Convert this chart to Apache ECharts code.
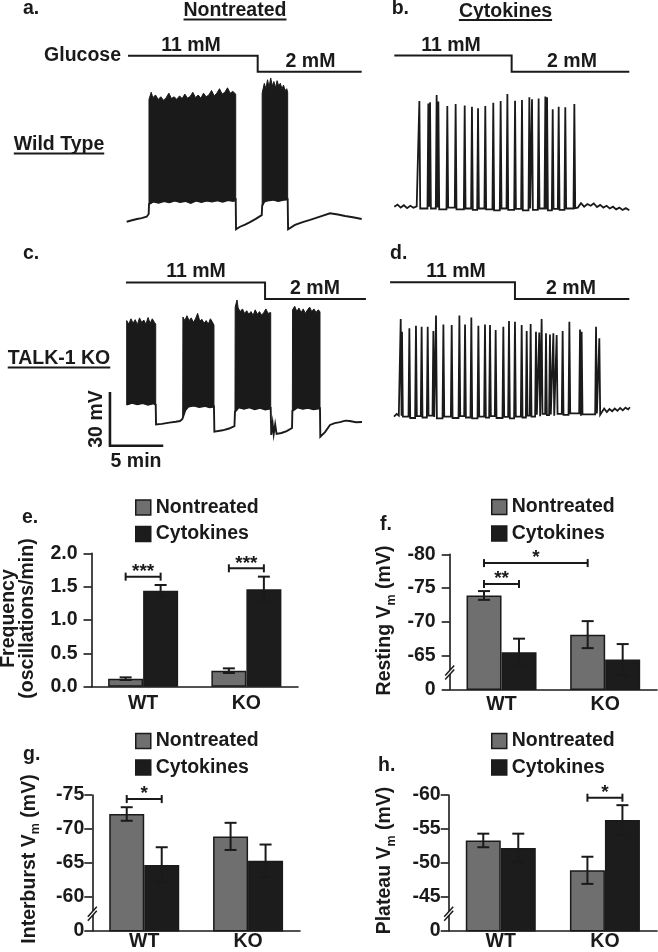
<!DOCTYPE html>
<html><head><meta charset="utf-8">
<script src="https://cdn.jsdelivr.net/npm/echarts@6/dist/echarts.min.js"></script>
<style>html,body{margin:0;padding:0;background:#fff;}#c{width:658px;height:952px;}</style>
</head><body><div id="c"></div>
<script>
// ================= DATA =================
const groups = ['WT', 'KO'];
const seriesNames = ['Nontreated', 'Cytokines'];

// e. Frequency (oscillations/min)
const freqNontreated = [0.12, 0.24];
const freqNontreatedErr = [0.02, 0.035];
const freqCytokines = [1.44, 1.46];
const freqCytokinesErr = [0.085, 0.19];
const freqTicks = ['0.0', '0.5', '1.0', '1.5', '2.0'];
const freqSig = [[0, 0, 0, 1, 1.65], [1, 0, 1, 1, 1.775]];
const freqSigLabels = ['***', '***'];

// f. Resting Vm (mV)
const restNontreated = [-73.9, -68.1];
const restNontreatedErr = [0.65, 2.0];
const restCytokines = [-65.5, -64.4];
const restCytokinesErr = [2.0, 2.3];
const restTicks = ['-80', '-75', '-70', '-65', '0'];
const restSig = [[0, 0, 1, 0, -78.7], [0, 0, 0, 1, -75.6]];
const restSigLabels = ['*', '**'];

// g. Interburst Vm (mV)
const interNontreated = [-72.2, -68.9];
const interNontreatedErr = [1.0, 2.0];
const interCytokines = [-64.7, -65.3];
const interCytokinesErr = [2.6, 2.4];
const interTicks = ['-75', '-70', '-65', '-60', '0'];
const interSig = [[0, 0, 0, 1, -74.4]];
const interSigLabels = ['*'];

// h. Plateau Vm (mV)
const platNontreated = [-53.3, -48.9];
const platNontreatedErr = [1.0, 2.0];
const platCytokines = [-52.2, -56.3];
const platCytokinesErr = [2.1, 2.2];
const platTicks = ['-60', '-55', '-50', '-45', '0'];
const platSig = [[1, 0, 1, 1, -59.6]];
const platSigLabels = ['*'];

// ---- traces: time (min), membrane potential (mV) ----
// a. Wild type, nontreated (bursting)
const aBaseline = [
  [[0, -72.8], [0.5, -72.0], [0.97, -71.3], [1.4, -70.8], [1.87, -70.0], [2.06, -68.5]],
  [[10.25, -77.0], [10.62, -75.6], [11.1, -74.4], [11.56, -73.0], [12.1, -71.2], [12.66, -69.1]],
  [[15.13, -77.0], [15.78, -74.6], [16.5, -73.0], [17.19, -71.8], [18.12, -70.0], [19.06, -68.1], [19.8, -68.8], [20.47, -69.6], [21.2, -70.3], [22.03, -71.3]]
];
const aBurstTop = [
  [[2.09, -4.5], [2.3, -0.5], [2.45, -3.5], [2.7, -2.0], [2.95, -4.5], [3.2, -3.0], [3.45, -5.0], [3.7, -3.5], [3.95, -1.0], [4.2, -4.0], [4.45, -3.0], [4.7, -4.5], [4.95, -2.5], [5.2, -4.0], [5.45, -1.5], [5.7, -3.8], [5.95, -2.8], [6.2, -0.5], [6.45, -3.5], [6.7, -2.0], [6.95, -3.8], [7.2, -1.0], [7.45, -3.0], [7.7, -2.0], [7.95, 0.5], [8.2, -2.5], [8.45, -1.0], [8.7, 1.5], [8.95, -1.5], [9.2, -0.5], [9.45, 2.0], [9.7, -1.0], [9.95, 0.0], [10.22, -1.5]],
  [[12.7, -1.0], [12.9, 4.5], [13.05, 1.5], [13.2, 6.5], [13.35, 2.5], [13.5, 7.5], [13.65, 3.0], [13.8, 5.5], [13.95, 2.0], [14.1, 6.0], [14.25, 3.0], [14.4, 4.5], [14.55, 1.5], [14.7, 3.5], [14.85, 0.5], [15.0, 1.5], [15.09, -0.5]]
];
const aBurstBottom = [
  [[2.09, -63.0], [2.5, -61.5], [3.0, -62.2], [3.5, -61.3], [4.0, -62.0], [4.5, -61.0], [5.0, -61.8], [5.5, -61.2], [6.0, -62.3], [6.5, -61.0], [7.0, -61.8], [7.5, -61.0], [8.0, -61.5], [8.5, -60.8], [9.0, -61.6], [9.5, -60.7], [10.0, -61.2], [10.22, -60.5]],
  [[12.7, -64.0], [12.9, -61.5], [13.2, -61.0], [13.7, -60.5], [14.2, -61.2], [14.7, -60.6], [15.09, -60.3]]
];

// b. Wild type, cytokines (fast oscillations)
const bPre = [[0, -70.0], [0.3, -68.8], [0.6, -70.5], [0.9, -69.2], [1.2, -70.8], [1.5, -69.5], [1.8, -70.6], [2.1, -69.8]];
const bSpikeTimes = [2.35, 3.19, 3.35, 3.97, 4.13, 4.97, 5.75, 6.60, 7.28, 7.85, 8.53, 9.28, 9.97, 10.60, 11.32, 11.97, 12.66, 12.91, 13.53, 14.16, 14.32, 14.85, 15.41, 16.03, 16.88];
const bSpikePeaks = [-10.9, -12.3, -11.7, -7.6, -11.3, -13.7, -12.6, -13.4, -14.1, -15.0, -13.7, -11.9, -10.9, -7.0, -10.8, -10.4, -8.9, -10.0, -9.5, -8.5, -8.9, -15.6, -14.1, -14.5, -12.6];
const bTroughs = [-70.5, -71.0, -70.0, -71.0, -70.5, -71.5, -70.5, -71.5, -71.0, -71.8, -71.0, -71.5, -72.0, -71.0, -71.8, -71.2, -72.0, -71.0, -71.8, -71.0, -71.5, -72.0, -71.2, -71.8, -71.0, -70.8];
const bPost = [[17.2, -70.5], [17.5, -68.0], [17.8, -70.0], [18.1, -68.5], [18.4, -69.5], [18.7, -68.2], [19.0, -70.2], [19.3, -69.0], [19.6, -70.5], [19.9, -69.5], [20.2, -71.0], [20.5, -70.0], [20.8, -71.5], [21.1, -70.5], [21.4, -71.8], [21.7, -70.8], [22.03, -72.0]];

// c. TALK-1 KO, nontreated (bursting)
const cBaseline = [
  [],
  [[2.75, -71.5], [3.3, -71.2], [4.0, -70.5], [4.6, -70.0], [5.0, -69.6], [5.22, -68.5]],
  [[8.22, -75.6], [9.0, -74.8], [9.6, -73.8], [10.1, -72.5]],
  [[13.55, -77.4], [13.68, -71.0], [13.78, -77.0], [13.92, -71.5], [14.05, -76.8], [14.5, -76.3], [15.0, -75.3], [15.5, -73.5]],
  [[18.15, -78.4], [18.59, -75.8], [19.06, -71.8], [19.5, -70.8], [20.0, -70.2], [20.5, -69.4], [20.9, -69.6], [21.5, -70.3], [22.06, -70.2]]
];
const cBurstTop = [
  [[0, -13.5], [0.2, -15.5], [0.4, -12.5], [0.6, -15.0], [0.8, -13.0], [1.0, -15.8], [1.2, -12.0], [1.4, -14.5], [1.6, -13.2], [1.8, -15.5], [2.0, -11.8], [2.2, -15.0], [2.4, -12.5], [2.6, -14.5], [2.72, -15.5]],
  [[5.27, -11.5], [5.45, -13.5], [5.65, -10.8], [5.85, -13.5], [6.05, -12.0], [6.25, -14.5], [6.45, -12.5], [6.65, -9.5], [6.85, -13.8], [7.05, -12.8], [7.25, -15.0], [7.45, -13.5], [7.65, -15.5], [7.85, -12.5], [8.05, -14.5], [8.18, -16.0]],
  [[10.17, -6.0], [10.34, -2.0], [10.45, -6.5], [10.65, -8.5], [10.85, -7.0], [11.05, -9.5], [11.25, -8.0], [11.45, -10.0], [11.65, -8.5], [11.85, -10.5], [12.05, -7.5], [12.25, -10.0], [12.45, -8.5], [12.65, -10.5], [12.85, -9.0], [13.05, -7.0], [13.25, -9.5], [13.5, -9.0]],
  [[15.55, -7.5], [15.75, -5.5], [15.95, -8.5], [16.15, -6.5], [16.35, -9.0], [16.55, -7.0], [16.75, -9.5], [16.95, -7.5], [17.15, -6.0], [17.35, -8.5], [17.55, -7.0], [17.75, -9.0], [17.95, -7.5], [18.12, -8.5]]
];
const cBurstBottom = [
  [[0, -60.5], [0.5, -59.5], [1.0, -60.3], [1.5, -59.6], [2.0, -60.5], [2.5, -59.8], [2.72, -60.5]],
  [[5.25, -67.4], [5.5, -63.5], [5.8, -61.5], [6.3, -61.0], [6.8, -61.8], [7.3, -61.2], [7.8, -62.0], [8.18, -61.5]],
  [[10.15, -64.5], [10.5, -62.0], [11.0, -62.8], [11.5, -62.0], [12.0, -63.0], [12.5, -62.2], [13.0, -63.2], [13.5, -62.5]],
  [[15.53, -64.0], [16.0, -62.0], [16.5, -62.8], [17.0, -62.3], [17.5, -63.0], [18.12, -62.5]]
];

// d. TALK-1 KO, cytokines (fast oscillations)
const dPre = [[0, -72.0], [0.25, -70.5], [0.45, -71.5]];
const dSpikeTimes = [0.63, 0.75, 1.44, 2.06, 2.59, 3.16, 3.69, 3.94, 4.63, 5.41, 6.13, 6.66, 7.25, 7.91, 8.53, 9.00, 9.53, 10.25, 10.78, 11.34, 11.97, 12.44, 12.81, 13.31, 13.62, 13.84, 14.25, 14.62, 14.94, 15.25, 15.81, 16.44, 17.44, 17.59, 18.94, 19.25];
const dSpikePeaks = [-17.5, -24.6, -22.7, -21.2, -21.8, -21.8, -24.2, -15.6, -20.5, -20.8, -15.6, -20.5, -16.7, -21.2, -20.5, -20.8, -23.6, -21.8, -18.6, -19.0, -20.8, -24.2, -20.3, -24.6, -25.1, -17.5, -25.5, -26.1, -25.5, -26.4, -24.2, -19.0, -23.3, -24.6, -21.8, -28.3];
const dTroughs = [-72.5, -71.5, -72.0, -72.8, -71.8, -72.5, -71.5, -72.2, -73.0, -72.0, -72.8, -71.8, -72.5, -73.0, -72.0, -72.6, -71.8, -72.8, -72.2, -73.0, -72.0, -72.5, -71.5, -72.0, -71.0, -71.8, -70.5, -71.2, -70.8, -71.5, -70.5, -71.0, -70.2, -71.5, -70.8, -70.2, -71.0];
const dPost = [[19.45, -71.5], [19.7, -67.5], [19.95, -69.5], [20.2, -67.8], [20.45, -69.0], [20.7, -67.5], [20.95, -68.8], [21.2, -67.2], [21.45, -68.5], [21.7, -67.0], [21.95, -68.0], [22.12, -66.8]];

// Glucose protocol lines (time of switch 11 mM -> 2 mM), drawn above each trace
const gluA = [[0.12, 19.9], [12.28, 19.9], [12.28, 11.0], [22.03, 11.0]];
const gluB = [[0, 14.4], [11.0, 14.4], [11.0, 5.4], [22.03, 5.4]];
const gluC = [[-0.07, 7.7], [12.97, 7.7], [12.97, -1.5], [22.43, -1.5]];
const gluD = [[-0.37, 3.0], [11.34, 3.0], [11.34, -6.3], [22.06, -6.3]];
// Scale bar: 30 mV, 5 min
const scaleBarC = [[-1.57, -53.4], [-1.57, -83.4], [3.43, -83.4]];

// ================= STYLE / LAYOUT =================
const INK = '#1a1a1a';
const GRAY = '#6f6f6f';
const BLACK = '#1c1c1c';
const FONT = '"Liberation Sans", Arial, Helvetica, sans-serif';
const FS = 19.5;
const BOLD = 'bold ' + FS + 'px ' + FONT;
const BAR_W = 35, CAP_W = 12;
const PX_PER_MIN = 10.667, PX_PER_MV = 1.79;
const TX_MIN = -2, TX_MAX = 22.5, TY_MIN = -90, TY_MAX = 30;
const SPIKE_HALF_WIDTH = 0.08;

const barPanels = [
  {grid: {left: 91.5, top: 553.3, width: 206.5, height: 133.4}, min: 0, max: 2, interval: 0.5, inverse: false, ticks: freqTicks,
   nt: freqNontreated, ntErr: freqNontreatedErr, ck: freqCytokines, ckErr: freqCytokinesErr, sig: freqSig, sigLabels: freqSigLabels,
   yMargin: 14, xMargin: 7, legend: {left: 135, top: 497.5}, broken: false},
  {grid: {left: 449.7, top: 554.3, width: 207.3, height: 135}, min: -80, max: -60, interval: 5, inverse: true, ticks: restTicks,
   nt: restNontreated, ntErr: restNontreatedErr, ck: restCytokines, ckErr: restCytokinesErr, sig: restSig, sigLabels: restSigLabels,
   yMargin: 14, xMargin: 5, legend: {left: 491, top: 497}, broken: true},
  {grid: {left: 92.3, top: 795, width: 207.7, height: 135.7}, min: -75, max: -55, interval: 5, inverse: true, ticks: interTicks,
   nt: interNontreated, ntErr: interNontreatedErr, ck: interCytokines, ckErr: interCytokinesErr, sig: interSig, sigLabels: interSigLabels,
   yMargin: 8, xMargin: 1, legend: {left: 135, top: 731}, broken: true},
  {grid: {left: 448.7, top: 795, width: 208.3, height: 135.7}, min: -60, max: -40, interval: 5, inverse: true, ticks: platTicks,
   nt: platNontreated, ntErr: platNontreatedErr, ck: platCytokines, ckErr: platCytokinesErr, sig: platSig, sigLabels: platSigLabels,
   yMargin: 8, xMargin: 1, legend: {left: 491, top: 731}, broken: true}
];

// trace panels anchored by pixel of t=0 and of -70 mV
const tracePanels = [
  {x0: 126.7, yb: 216.7}, // a
  {x0: 394.3, yb: 206.7}, // b
  {x0: 126.7, yb: 421.7}, // c
  {x0: 394.0, yb: 413.0}  // d
];

// ================= BUILDERS =================
function buildBurstTrace(segs, bottoms) {
  const out = [];
  for (let i = 0; i < segs.length; i++) {
    segs[i].forEach(p => out.push(p));
    if (bottoms[i]) bottoms[i].forEach(p => out.push(p));
  }
  return out;
}
function buildSpikeTrace(pre, times, peaks, troughs, post) {
  const out = pre.slice();
  const hw = SPIKE_HALF_WIDTH;
  for (let i = 0; i < times.length; i++) {
    out.push([times[i] - hw, troughs[i]]);
    out.push([times[i], peaks[i]]);
    out.push([times[i] + hw, troughs[i + 1]]);
  }
  return out.concat(post);
}

function errRender(params, api) {
  const cat = api.value(0), side = api.value(1), v = api.value(2), e = api.value(3);
  const p1 = api.coord([cat, v + e]), p2 = api.coord([cat, v - e]);
  const x = p1[0] + (side === 0 ? -BAR_W / 2 : BAR_W / 2);
  const cw = CAP_W / 2;
  const st = {stroke: INK, lineWidth: 2};
  return {type: 'group', children: [
    {type: 'line', shape: {x1: x, y1: p1[1], x2: x, y2: p2[1]}, style: st},
    {type: 'line', shape: {x1: x - cw, y1: p1[1], x2: x + cw, y2: p1[1]}, style: st},
    {type: 'line', shape: {x1: x - cw, y1: p2[1], x2: x + cw, y2: p2[1]}, style: st}
  ]};
}
function sigRender(labels) {
  return function (params, api) {
    const c1 = api.value(0), s1 = api.value(1), c2 = api.value(2), s2 = api.value(3), lv = api.value(4);
    const a = api.coord([c1, lv]), b = api.coord([c2, lv]);
    const x1 = a[0] + (s1 === 0 ? -BAR_W / 2 : BAR_W / 2);
    const x2 = b[0] + (s2 === 0 ? -BAR_W / 2 : BAR_W / 2);
    const y = a[1];
    const st = {stroke: INK, lineWidth: 2};
    return {type: 'group', children: [
      {type: 'line', shape: {x1: x1, y1: y, x2: x2, y2: y}, style: st},
      {type: 'line', shape: {x1: x1, y1: y - 4, x2: x1, y2: y + 4}, style: st},
      {type: 'line', shape: {x1: x2, y1: y - 4, x2: x2, y2: y + 4}, style: st},
      {type: 'text', style: {text: labels[params.dataIndex], x: (x1 + x2) / 2, y: y - 5, align: 'center', verticalAlign: 'middle', font: 'bold 19px ' + FONT, fill: INK}}
    ]};
  };
}
function burstRender(tops, bottoms) {
  return function (params, api) {
    const i = params.dataIndex;
    const pts = tops[i].concat(bottoms[i].slice().reverse()).map(p => api.coord(p));
    return {type: 'polygon', shape: {points: pts}, style: {fill: INK, stroke: INK, lineWidth: 1}};
  };
}

// ================= OPTION =================
const grids = [], xAxes = [], yAxes = [], series = [], legends = [];

barPanels.forEach((p, k) => {
  grids.push(Object.assign({outerBoundsMode: 'none', containLabel: false}, p.grid));
  xAxes.push({type: 'category', gridIndex: k, data: groups,
    axisLine: {onZero: false, lineStyle: {color: INK, width: 1.6}}, axisTick: {show: false},
    axisLabel: {color: INK, fontWeight: 'bold', fontSize: FS, fontFamily: FONT, margin: p.xMargin}, splitLine: {show: false}});
  yAxes.push({type: 'value', gridIndex: k, min: p.min, max: p.max, interval: p.interval, inverse: p.inverse,
    axisLine: {show: true, onZero: false, lineStyle: {color: INK, width: 1.6}},
    axisTick: {show: true, length: 8, inside: false, lineStyle: {color: INK, width: 1.6}},
    axisLabel: {color: INK, fontWeight: 'bold', fontSize: FS, fontFamily: FONT, margin: p.yMargin,
      formatter: (v) => p.ticks[Math.round((v - p.min) / p.interval)]},
    splitLine: {show: false}});
  series.push({type: 'bar', name: seriesNames[0], xAxisIndex: k, yAxisIndex: k, data: p.nt, barWidth: BAR_W, barGap: '0%',
    clip: true, silent: true, itemStyle: {color: GRAY, borderColor: INK, borderWidth: 1.5}});
  series.push({type: 'bar', name: seriesNames[1], xAxisIndex: k, yAxisIndex: k, data: p.ck, barWidth: BAR_W, barGap: '0%',
    clip: true, silent: true, itemStyle: {color: BLACK, borderColor: INK, borderWidth: 1.5}});
  const errData = [[0, 0, p.nt[0], p.ntErr[0]], [1, 0, p.nt[1], p.ntErr[1]], [0, 1, p.ck[0], p.ckErr[0]], [1, 1, p.ck[1], p.ckErr[1]]];
  series.push({type: 'custom', name: 'err' + k, xAxisIndex: k, yAxisIndex: k, data: errData, encode: {x: 0, y: 2},
    renderItem: errRender, silent: true, z: 5});
  series.push({type: 'custom', name: 'sig' + k, xAxisIndex: k, yAxisIndex: k, data: p.sig, encode: {x: 0, y: 4},
    renderItem: sigRender(p.sigLabels), silent: true, z: 5});
  legends.push({data: seriesNames, orient: 'vertical', left: p.legend.left, top: p.legend.top, padding: 0,
    itemWidth: 15, itemHeight: 15, itemGap: 6.5, icon: 'rect', selectedMode: false,
    itemStyle: {borderColor: INK, borderWidth: 1.5},
    textStyle: {color: INK, fontWeight: 'bold', fontSize: FS, fontFamily: FONT, lineHeight: 20}});
});

tracePanels.forEach((tp, j) => {
  const gi = 4 + j;
  grids.push({outerBoundsMode: 'none', containLabel: false,
    left: tp.x0 + TX_MIN * PX_PER_MIN, width: (TX_MAX - TX_MIN) * PX_PER_MIN,
    top: tp.yb - (TY_MAX + 70) * PX_PER_MV, height: (TY_MAX - TY_MIN) * PX_PER_MV});
  xAxes.push({type: 'value', gridIndex: gi, min: TX_MIN, max: TX_MAX, show: false});
  yAxes.push({type: 'value', gridIndex: gi, min: TY_MIN, max: TY_MAX, show: false});
});

const traceLine = (name, gi, data, w) => ({type: 'line', name: name, xAxisIndex: gi, yAxisIndex: gi, data: data,
  showSymbol: false, symbol: 'none', silent: true, clip: false,
  lineStyle: {color: INK, width: w, join: 'miter', cap: 'butt'}});

series.push(traceLine('gluA', 4, gluA, 2));
series.push(traceLine('gluB', 5, gluB, 2));
series.push(traceLine('gluC', 6, gluC, 2));
series.push(traceLine('gluD', 7, gluD, 2));
series.push(traceLine('traceA', 4, buildBurstTrace(aBaseline, aBurstBottom), 1.9));
series.push(traceLine('traceB', 5, buildSpikeTrace(bPre, bSpikeTimes, bSpikePeaks, bTroughs, bPost), 1.8));
series.push(traceLine('traceC', 6, buildBurstTrace(cBaseline, cBurstBottom), 1.9));
series.push(traceLine('traceD', 7, buildSpikeTrace(dPre, dSpikeTimes, dSpikePeaks, dTroughs, dPost), 1.8));
series.push(traceLine('scaleC', 6, scaleBarC, 2.6));
series.push({type: 'custom', name: 'burstA', xAxisIndex: 4, yAxisIndex: 4, data: aBurstTop.map((b) => [b[0][0], -30]),
  renderItem: burstRender(aBurstTop, aBurstBottom), silent: true});
series.push({type: 'custom', name: 'burstC', xAxisIndex: 6, yAxisIndex: 6, data: cBurstTop.map((b) => [b[0][0], -30]),
  renderItem: burstRender(cBurstTop, cBurstBottom), silent: true});

const chart = echarts.init(document.getElementById('c'), null, {renderer: 'canvas', width: 658, height: 952});
chart.setOption({
  animation: false,
  backgroundColor: '#fff',
  textStyle: {fontFamily: FONT},
  grid: grids, xAxis: xAxes, yAxis: yAxes, legend: legends, series: series
});

// ================= TEXT / ANNOTATIONS =================
const measureCtx = document.createElement('canvas').getContext('2d');
function textWidth(t, font) { measureCtx.font = font; return measureCtx.measureText(t).width; }

const graphics = [];
function addText(t, x, y, align, extra) {
  graphics.push(Object.assign({type: 'text', x: x, y: y, silent: true,
    style: {text: t, font: BOLD, fill: INK, align: align || 'center', verticalAlign: 'middle'}}, extra || {}));
}
function addUnderlined(t, x, y) {
  addText(t, x, y, 'center');
  const w = textWidth(t, BOLD);
  graphics.push({type: 'line', silent: true, shape: {x1: x - w / 2, y1: y + 8.6, x2: x + w / 2, y2: y + 8.6}, style: {stroke: INK, lineWidth: 2}});
}
// panel letters
addText('a.', 23, 8.2, 'left'); addText('b.', 391.7, 8.2, 'left');
addText('c.', 23, 253.2, 'left'); addText('d.', 390, 253.2, 'left');
addText('e.', 22, 518, 'left'); addText('f.', 380, 525, 'left');
addText('g.', 23, 755, 'left'); addText('h.', 378, 765.5, 'left');
// headers
addUnderlined('Nontreated', 235, 11);
addUnderlined('Cytokines', 505.5, 11.3);
addUnderlined('Wild Type', 59, 145);
addUnderlined('TALK-1 KO', 59, 359);
addText('Glucose', 121, 55.5, 'right');
addText('11 mM', 191, 45.8); addText('2 mM', 310.5, 61.4);
addText('11 mM', 451, 45.8); addText('2 mM', 572, 61.4);
addText('11 mM', 196, 272); addText('2 mM', 315, 288.8);
addText('11 mM', 456, 272); addText('2 mM', 571, 288.8);
addText('5 min', 136, 462);
addText('30 mV', 96.7, 419, 'center', {rotation: Math.PI / 2});

// axis titles (rotated)
const richT = {fontSize: FS, fontWeight: 'bold', fontFamily: FONT, lineHeight: 26, verticalAlign: 'middle', fill: INK};
const richS = {fontSize: 12.5, fontWeight: 'bold', fontFamily: FONT, lineHeight: 12, verticalAlign: 'bottom', fill: INK};
function addTitle(text, x, y, rich) {
  graphics.push({type: 'text', x: x, y: y, rotation: Math.PI / 2, silent: true,
    style: {text: text, rich: rich, align: 'center', verticalAlign: 'middle', fill: INK, font: BOLD}});
}
addTitle('{t|Frequency}\n{t|(oscillations/min)}', 18, 618.5, {t: Object.assign({}, richT, {lineHeight: 19})});
addTitle('{t|Resting V}{s|m}{t| (mV)}', 385, 620.5, {t: richT, s: richS});
addTitle('{t|Interburst V}{s|m}{t| (mV)}', 29.3, 859, {t: richT, s: richS});
addTitle('{t|Plateau V}{s|m}{t| (mV)}', 384.8, 860.5, {t: richT, s: richS});

// axis-break marks on the broken value axes
barPanels.forEach((p, k) => {
  if (!p.broken) return;
  const y = chart.convertToPixel({yAxisIndex: k}, p.max - p.interval / 2);
  const x = p.grid.left;
  graphics.push({type: 'polygon', silent: true, z: 100, shape: {points: [[x - 4.5, y + 7], [x + 4.5, y - 3], [x + 4.5, y - 7], [x - 4.5, y + 3]]}, style: {fill: '#fff'}});
  graphics.push({type: 'line', silent: true, z: 101, shape: {x1: x - 4.5, y1: y + 7, x2: x + 4.5, y2: y - 3}, style: {stroke: INK, lineWidth: 1.5}});
  graphics.push({type: 'line', silent: true, z: 101, shape: {x1: x - 4.5, y1: y + 3, x2: x + 4.5, y2: y - 7}, style: {stroke: INK, lineWidth: 1.5}});
});

chart.setOption({graphic: graphics});
</script>
</body></html>
